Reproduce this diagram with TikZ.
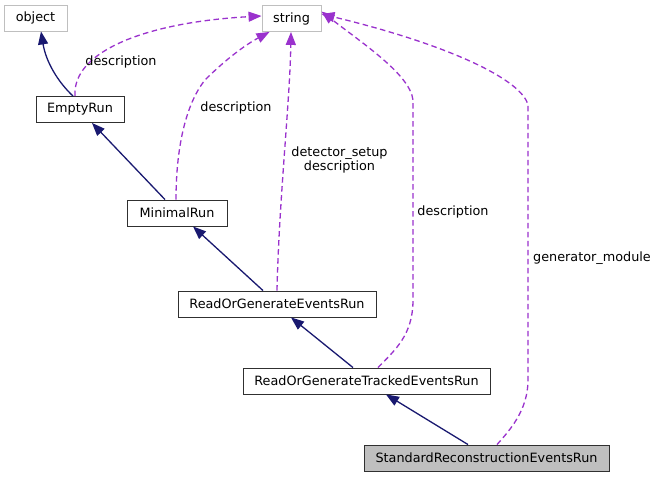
\documentclass[tikz,border=0pt]{standalone}
\usepackage{fontspec}
\setmainfont{DejaVu Sans}
\usetikzlibrary{arrows.meta}
\definecolor{navyedge}{HTML}{191970}
\definecolor{purpedge}{HTML}{9A32CD}
\definecolor{graybox}{HTML}{BFBFBF}
\definecolor{boxline}{HTML}{303030}
\tikzset{
  cls/.style={draw=boxline, line width=0.9pt, rectangle, inner sep=0pt, minimum height=26pt, font=\fontsize{12.8}{14}\selectfont, text=black},
  ext/.style={cls, draw=graybox},
  cur/.style={cls, fill=graybox},
  inh/.style={draw=navyedge, line width=1.3pt, -{Triangle[length=13pt,width=10pt]}},
  use/.style={draw=purpedge, line width=1.3pt, dash pattern=on 5.5pt off 3.5pt, -{Triangle[length=13pt,width=10pt]}},
  lbl/.style={font=\fontsize{12.8}{14.5}\selectfont, align=center, text=black}
}
\begin{document}
\begin{tikzpicture}[x=1pt,y=-1pt]
\useasboundingbox[fill=white] (0,0) rectangle (657,477);
\node[ext, minimum width=63pt] (object) at (35.5,18) {object};
\node[ext, minimum width=59pt] (string) at (291.5,18.5) {string};
\node[cls, minimum width=88pt] (empty) at (80,109.5) {EmptyRun};
\node[cls, minimum width=100pt] (minimal) at (177,213) {MinimalRun};
\node[cls, minimum width=198pt] (roger) at (277,304) {ReadOrGenerateEventsRun};
\node[cls, minimum width=247pt] (rogter) at (366.5,381) {ReadOrGenerateTrackedEventsRun};
\node[cur, minimum width=245pt] (srer) at (486.5,458) {StandardReconstructionEventsRun};

\coordinate (c1) at (528,380);
\coordinate (c2) at (528,105);
\coordinate (d1) at (413,300);
\coordinate (d2) at (413,100);

% inheritance
\draw[inh] ([xshift=-7pt]empty.north) .. controls (58,82) and (46,62) .. ([xshift=5.5pt]object.south);
\draw[inh] ([xshift=-12pt]minimal.north) -- ([xshift=12pt]empty.south);
\draw[inh] ([xshift=-14pt]roger.north) -- ([xshift=16pt]minimal.south);
\draw[inh] ([xshift=-13.5pt]rogter.north) -- ([xshift=14pt]roger.south);
\draw[inh] ([xshift=-18.5pt]srer.north) -- ([xshift=19.5pt]rogter.south);

% usage
\draw[use] ([xshift=-5pt]empty.north) .. controls (72,50) and (150,22) .. ([yshift=2.5pt]string.west);
\draw[use] ([xshift=-1pt]minimal.north) .. controls (176,150) and (185,105) .. (205,80) .. controls (225,60) and (245,45) .. ([xshift=-22pt]string.south);
\draw[use] (roger.north) .. controls (279,200) and (290,100) .. ([xshift=-0.5pt]string.south);
\draw[use] ([xshift=11.5pt]rogter.north) .. controls (395,350) and (413,335) .. (d1) -- (d2) .. controls (410,75) and (365,45) .. ([yshift=7pt]string.east);
\draw[use] ([xshift=10.5pt]srer.north) .. controls (510,430) and (528,410) .. (c1) -- (c2) .. controls (522,80) and (450,45) .. ([yshift=4.5pt]string.east);

\node[lbl] (l1) at (121,62) {description};
\node[lbl] (l2) at (236,108) {description};
\node[lbl] (l3) at (339.5,160) {detector\_setup\\description};
\node[lbl] (l4) at (453,212) {description};
\node[lbl] (l5) at (592,258) {generator\_module};
\end{tikzpicture}
\end{document}
